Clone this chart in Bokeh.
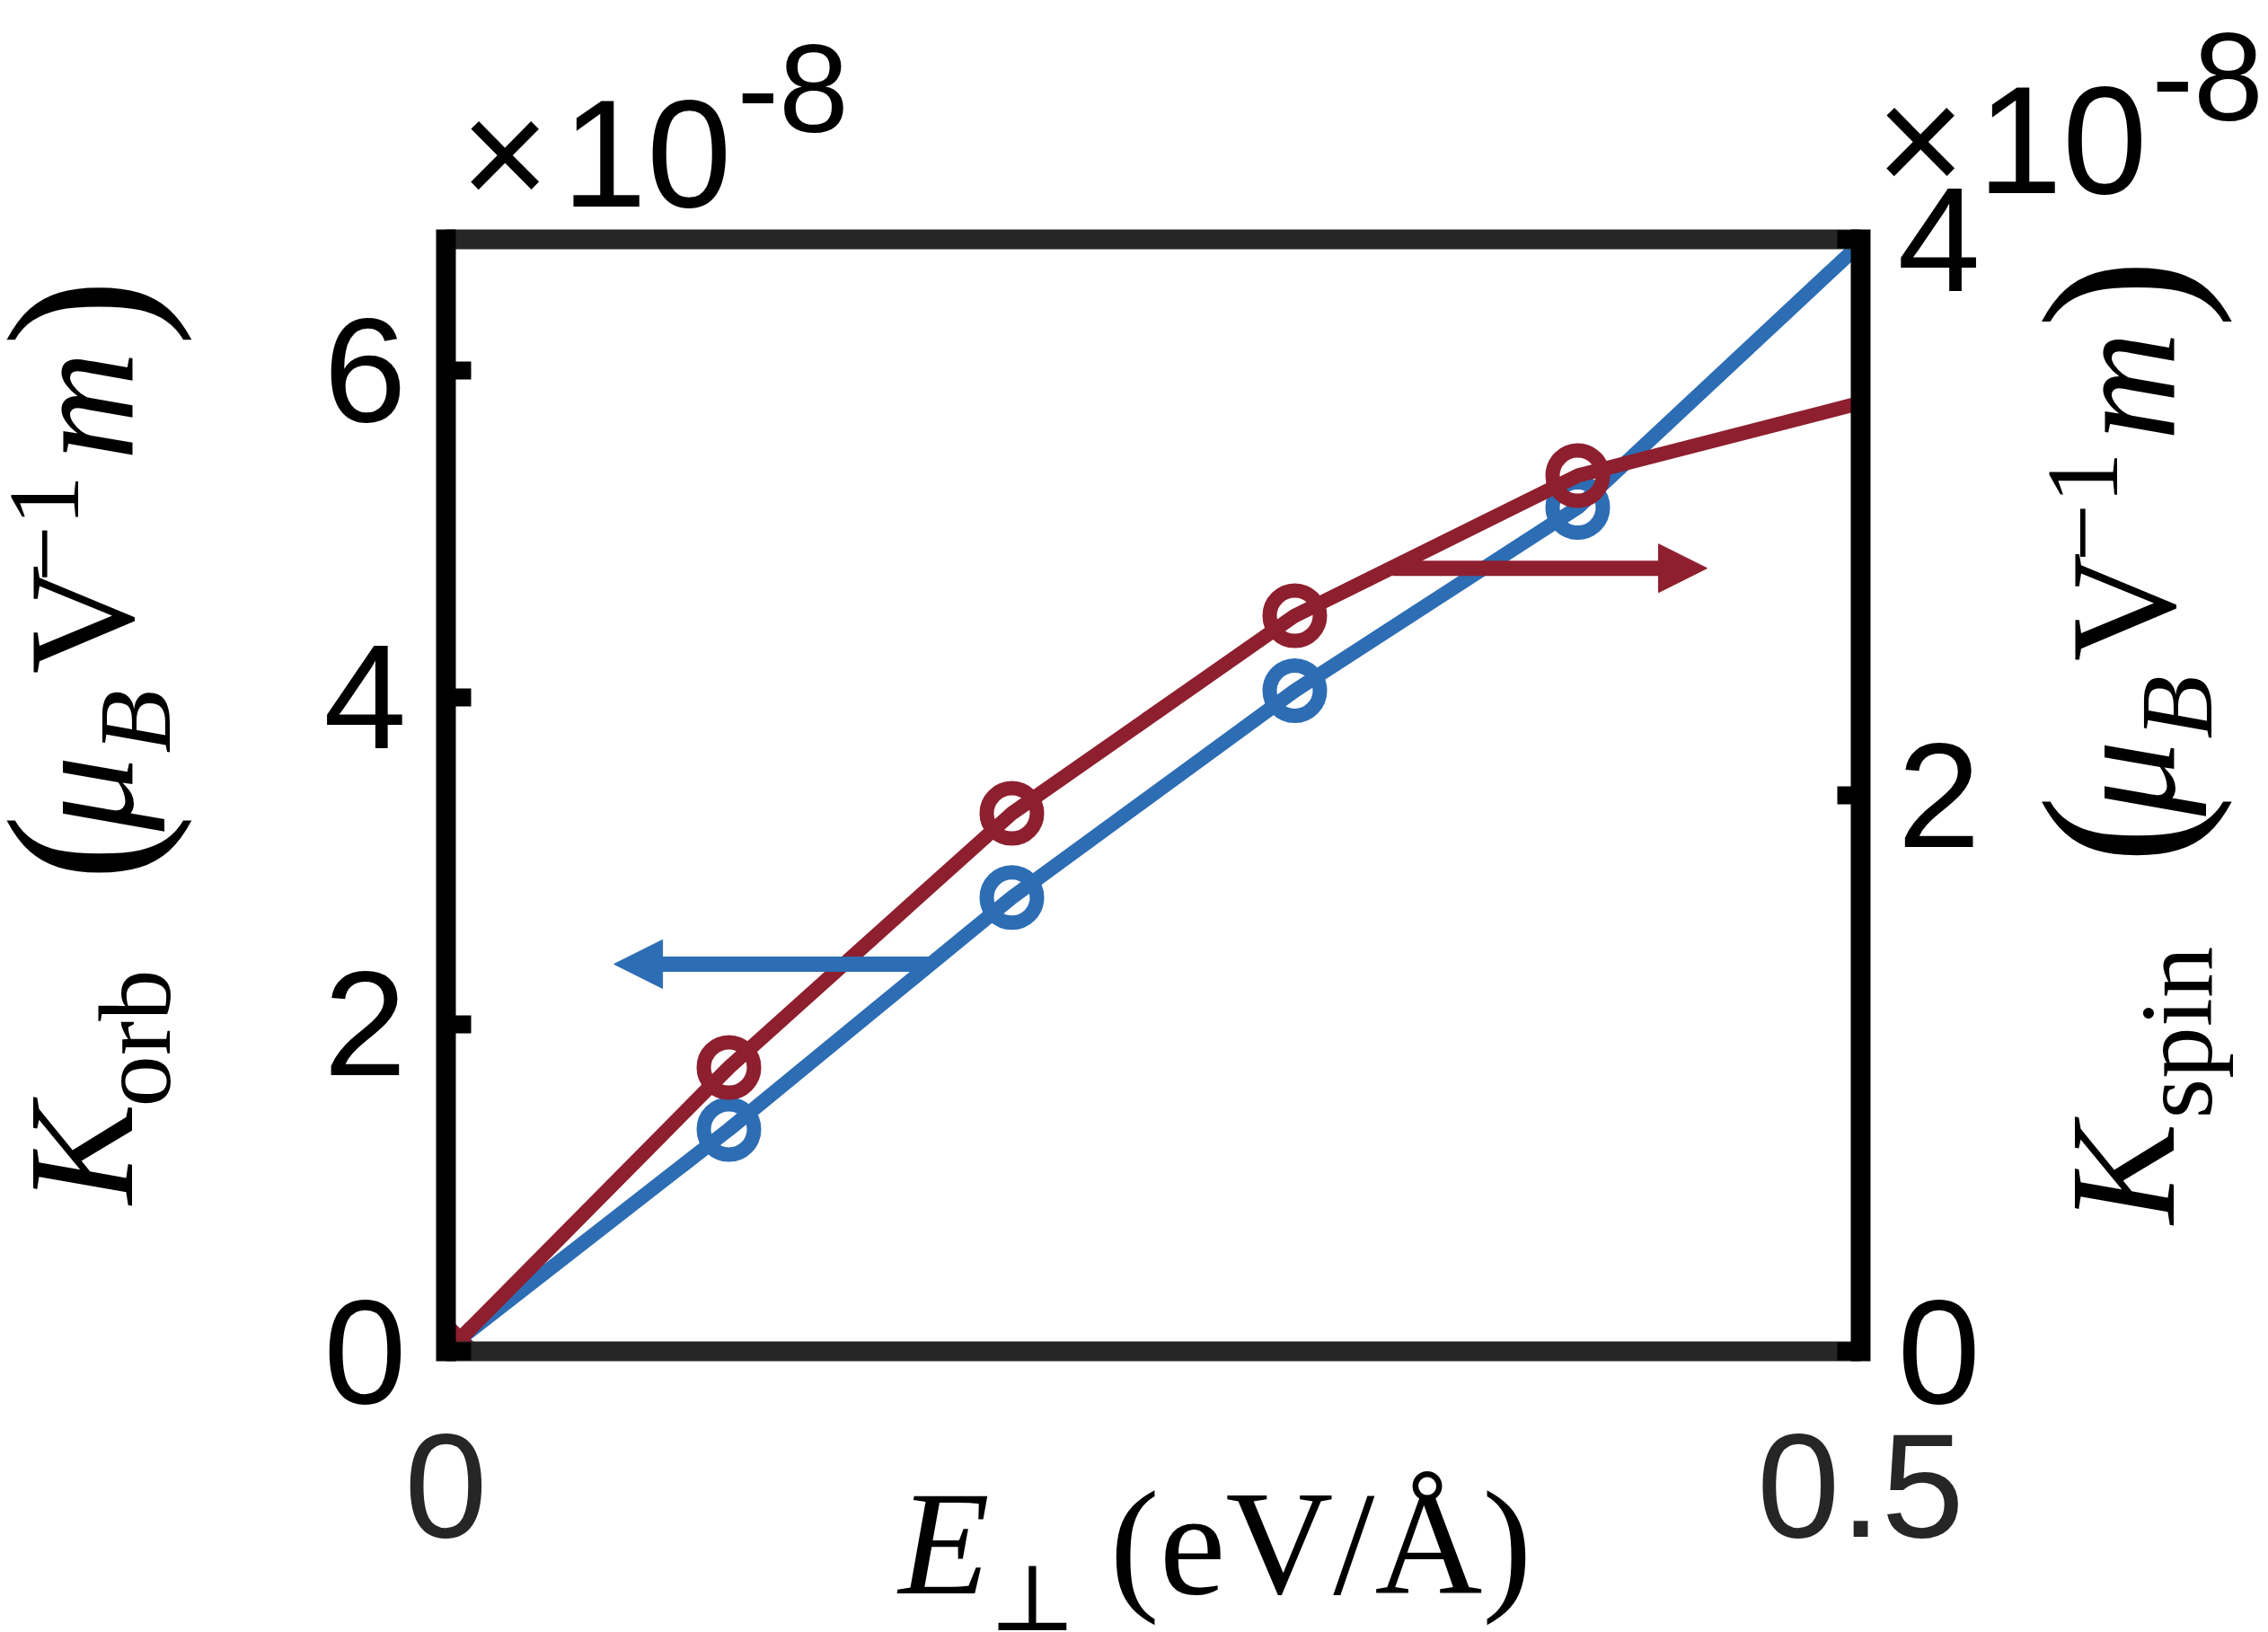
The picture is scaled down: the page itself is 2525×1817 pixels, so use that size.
import math
from bokeh.plotting import figure
from bokeh.models import Range1d, LinearAxis, FixedTicker, Label, Arrow, NormalHead
from bokeh.embed import file_html
from bokeh.resources import INLINE

# ---- data (values in units of 1e-8) ----
E_field = [0.005, 0.1, 0.2, 0.3, 0.4, 0.5]
K_orb = [0.077, 1.357, 2.775, 4.04, 5.16, 6.775]
K_spin = [0.045, 1.021, 1.935, 2.646, 3.150, 3.412]
x_ticks = [0, 0.5]
x_tick_labels = ["0", "0.5"]
left_ticks = [0, 2, 4, 6]
right_ticks = [0, 2, 4]
X_MAX = 0.5
YL_MAX = 6.8
YR_MAX = 4.0
blue_arrow = dict(x_start=0.1711, x_end=0.0594, y=2.368)   # left axis
red_arrow = dict(x_start=0.3346, x_end=0.4457, y=2.817)    # right axis

BLUE = "#2D6DB4"
RED = "#8E1F2F"
SERIF = "Liberation Serif"
SANS = "Liberation Sans"

# ---- layout (page pixels) ----
W, H = 2525, 1817
BOX_L, BOX_R, BOX_T, BOX_B = 496, 2071, 266, 1504
sx_ = (BOX_R - BOX_L) / X_MAX
syl = (BOX_B - BOX_T) / YL_MAX
syr = (BOX_B - BOX_T) / YR_MAX

x_range = Range1d((0 - BOX_L) / sx_, (W - BOX_L) / sx_)
y_range = Range1d((BOX_B - H) / syl, (BOX_B - 0) / syl)
yr_range = Range1d((BOX_B - H) / syr, (BOX_B - 0) / syr)

p = figure(width=W, height=H, x_range=x_range, y_range=y_range,
           output_backend="svg", toolbar_location=None,
           min_border=0, min_border_left=0, min_border_right=0,
           min_border_top=0, min_border_bottom=0)
p.extra_y_ranges = {"right": yr_range}
p.grid.visible = False
p.background_fill_color = "white"
p.border_fill_color = "white"
p.outline_line_color = None

FRAME_W = 22
TICK_W = 20

# bottom axis
xa = p.xaxis[0]
xa.fixed_location = 0
xa.bounds = (0, X_MAX)
xa.ticker = FixedTicker(ticks=x_ticks)
xa.major_label_overrides = {t: s for t, s in zip(x_ticks, x_tick_labels)}
xa.major_tick_in = 0
xa.major_tick_out = 0
xa.minor_tick_line_color = None
xa.axis_line_color = "#262626"
xa.axis_line_width = FRAME_W
xa.major_label_text_font = SANS
xa.major_label_text_font_size = "166px"
xa.major_label_text_color = "#262626"
xa.major_label_standoff = 92

# top axis (box line only)
ta = LinearAxis(fixed_location=YL_MAX, bounds=(0, X_MAX), ticker=FixedTicker(ticks=[]))
ta.major_tick_line_color = None
ta.minor_tick_line_color = None
ta.major_label_text_font_size = "0px"
ta.axis_line_color = "#262626"
ta.axis_line_width = FRAME_W
p.add_layout(ta, "above")

# left axis
ya = p.yaxis[0]
ya.fixed_location = 0
ya.bounds = (0, YL_MAX)
ya.ticker = FixedTicker(ticks=left_ticks)
ya.major_tick_in = 28
ya.major_tick_out = 0
ya.major_tick_line_width = TICK_W
ya.major_tick_line_color = "black"
ya.minor_tick_line_color = None
ya.axis_line_color = "black"
ya.axis_line_width = FRAME_W
ya.axis_line_cap = "square"
ya.major_label_text_font = SANS
ya.major_label_text_font_size = "166px"
ya.major_label_text_color = "black"
ya.major_label_standoff = 44

# right axis
ra = LinearAxis(y_range_name="right", fixed_location=X_MAX, bounds=(0, YR_MAX),
                ticker=FixedTicker(ticks=right_ticks))
ra.major_tick_in = 26
ra.major_tick_out = 0
ra.major_tick_line_width = TICK_W
ra.major_tick_line_color = "black"
ra.minor_tick_line_color = None
ra.axis_line_color = "black"
ra.axis_line_width = FRAME_W
ra.axis_line_cap = "square"
ra.major_label_text_font = SANS
ra.major_label_text_font_size = "166px"
ra.major_label_text_color = "black"
ra.major_label_standoff = 41
p.add_layout(ra, "right")

# data lines
LW = 16
CS = 56
p.line(E_field, K_orb, line_color=BLUE, line_width=LW)
p.scatter(E_field[1:5], K_orb[1:5], marker="circle", size=CS, fill_color=None,
          line_color=BLUE, line_width=LW)
p.scatter(E_field[:1], K_orb[:1], marker="x", size=36, line_color=BLUE, line_width=LW)

p.line(E_field, K_spin, line_color=RED, line_width=LW, y_range_name="right")
p.scatter(E_field[1:5], K_spin[1:5], marker="circle", size=CS, fill_color=None,
          line_color=RED, line_width=LW, y_range_name="right")
p.scatter(E_field[:1], K_spin[:1], marker="x", size=36, line_color=RED, line_width=LW,
          y_range_name="right")

# arrows
p.add_layout(Arrow(x_start=blue_arrow["x_start"], y_start=blue_arrow["y"],
                   x_end=blue_arrow["x_end"], y_end=blue_arrow["y"],
                   line_color=BLUE, line_width=17,
                   end=NormalHead(size=54, fill_color=BLUE, line_color=BLUE, line_width=1)))
p.add_layout(Arrow(x_start=red_arrow["x_start"], y_start=red_arrow["y"],
                   x_end=red_arrow["x_end"], y_end=red_arrow["y"],
                   line_color=RED, line_width=17, y_range_name="right",
                   end=NormalHead(size=54, fill_color=RED, line_color=RED, line_width=1)))

BASE_SHIFT = 0.36  # em offset of Bokeh's alphabetic anchor


def lab(text, X, Y, size, font=SERIF, style="normal", angle=0.0, color="black"):
    """X, Y: page-pixel position of the text's baseline start."""
    if angle == 0.0:
        Y = Y - BASE_SHIFT * size
    else:
        X = X - BASE_SHIFT * size
    p.add_layout(Label(x=(X - BOX_L) / sx_, y=(BOX_B - Y) / syl, text=text,
                       text_font=font, text_font_size=f"{size}px", text_font_style=style,
                       angle=angle, text_align="left", text_baseline="alphabetic",
                       text_color=color))


R = math.pi / 2
DL = 4
# left axis label: K_orb (mu_B V^-1 m)
lab("K", 146 + DL, 1340, 168, style="italic", angle=R)
lab("orb", 187 + DL, 1232, 115, angle=R)
lab("(", 166 + DL, 981, 226, angle=R)
lab("\u03bc", 146 + DL, 925, 168, style="italic", angle=R)
lab("B", 187 + DL, 838, 115, style="italic", angle=R)
lab("V", 146 + DL, 750, 168, angle=R)
lab("\u22121", 86 + DL, 648, 112, angle=R)
lab("m", 146 + DL, 512, 168, style="italic", angle=R)
lab(")", 166 + DL, 385, 226, angle=R)

# right axis label: K_spin (mu_B V^-1 m)
lab("K", 2423, 1362, 168, style="italic", angle=R)
lab("spin", 2464, 1245, 115, angle=R)
lab("(", 2439, 962, 233, angle=R)
lab("\u03bc", 2423, 908, 168, style="italic", angle=R)
lab("B", 2464, 822, 115, style="italic", angle=R)
lab("V", 2423, 736, 168, angle=R)
lab("\u22121", 2360, 625, 115, angle=R)
lab("m", 2423, 490, 168, style="italic", angle=R)
lab(")", 2439, 365, 233, angle=R)

# x axis label
lab("E", 1000, 1777, 166, style="italic")
lab("\u22a5", 1100, 1816, 104, font="DejaVu Serif")
lab("(eV/\u00c5)", 1235, 1777, 166)

# multipliers
lab("\u00d7", 512, 232, 170, font=SANS)
lab("10", 625, 232, 170, font=SANS)
lab("-8", 820, 149, 140, font=SANS)
lab("\u00d7", 2088, 217, 170, font=SANS)
lab("10", 2201, 217, 170, font=SANS)
lab("-8", 2395, 136, 140, font=SANS)

open("out.html", "w").write(file_html(p, INLINE))
